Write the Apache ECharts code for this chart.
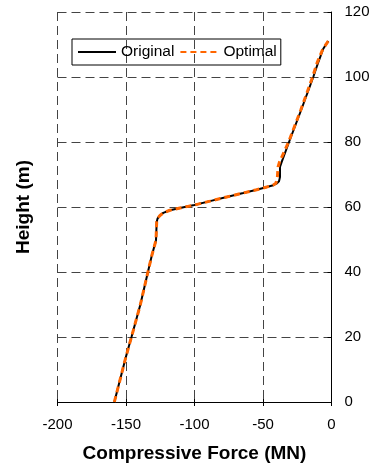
<!DOCTYPE html>
<html>
<head>
<meta charset="utf-8">
<script src="https://cdn.jsdelivr.net/npm/echarts@6/dist/echarts.min.js"></script>
<style>
html,body{margin:0;padding:0;background:#fff;}
#chart{width:374px;height:469px;}
</style>
</head>
<body>
<div id="chart"></div>
<script>
const heights = [0, 14, 20, 30, 40, 45, 49.8, 55.4, 56.4, 57.4, 58.2, 59.0, 59.7, 60.6, 61.8, 63.1, 64.3, 65.3, 66.0, 66.7, 67.3, 67.9, 69.2, 72.3, 73.8, 80, 90, 100, 104.6, 108.7, 111.1];
const originalForce = [-158.5, -150, -146, -139.5, -134, -131.2, -128.1, -127.6, -127.0, -125.2, -122.8, -117.9, -110.6, -100.1, -88.7, -76.5, -64.4, -54.6, -48.5, -42.5, -39.8, -38.3, -37.6, -37.6, -36.4, -31, -22, -13.3, -9.6, -6, -2.3];
const optimalForce = [-158.5, -150, -146, -139.5, -134, -131.2, -128.1, -127.6, -127.0, -125.2, -122.8, -117.9, -110.6, -100.1, -88.7, -76.5, -64.4, -54.6, -48.5, -42.8, -40.6, -39.8, -39.5, -39, -38, -31.3, -22.3, -13.8, -10.3, -6.2, -2.3];
const xTicks = [-200, -150, -100, -50, 0];
const yTicks = [0, 20, 40, 60, 80, 100, 120];

const pairs = (xs, ys) => xs.map((x, i) => [x, ys[i]]);
const font = 'Liberation Sans, Arial, sans-serif';
const chart = echarts.init(document.getElementById('chart'));
chart.setOption({
  animation: false,
  backgroundColor: '#fff',
  grid: {left: 57.5, top: 12, width: 274, height: 390},
  legend: {
    left: 72, top: 39,
    padding: [5, 4, 5, 5],
    itemGap: 5,
    itemWidth: 38, itemHeight: 14,
    borderColor: '#000', borderWidth: 1,
    itemStyle: {opacity: 0, borderWidth: 0},
    textStyle: {fontFamily: font, fontSize: 15.5, color: '#000'},
    data: ['Original', 'Optimal']
  },
  xAxis: [{
    type: 'value', min: xTicks[0], max: xTicks[xTicks.length - 1], interval: 50,
    position: 'bottom',
    name: 'Compressive Force (MN)', nameLocation: 'middle', nameGap: 42,
    nameTextStyle: {fontFamily: font, fontSize: 19, fontWeight: 'bold', color: '#000'},
    axisLine: {show: true, onZero: false, lineStyle: {color: '#000', width: 1}},
    axisTick: {show: true, length: 4, lineStyle: {color: '#000'}},
    axisLabel: {fontFamily: font, fontSize: 15, color: '#000', margin: 15},
    splitLine: {show: true, lineStyle: {color: '#444', type: [9, 5], width: 1}}
  }, {
    type: 'value', min: xTicks[0], max: xTicks[xTicks.length - 1], interval: 50,
    position: 'bottom',
    axisLine: {show: false},
    axisTick: {show: true, inside: true, length: 3, lineStyle: {color: '#000'}},
    axisLabel: {show: false},
    splitLine: {show: false}
  }],
  yAxis: [{
    type: 'value', min: yTicks[0], max: yTicks[yTicks.length - 1], interval: 20,
    position: 'right',
    axisLine: {show: true, onZero: false, lineStyle: {color: '#000', width: 1}},
    axisTick: {show: true, inside: true, length: 4, lineStyle: {color: '#000'}},
    axisLabel: {fontFamily: font, fontSize: 15, color: '#000', margin: 13},
    splitLine: {show: true, lineStyle: {color: '#444', type: [9, 5], width: 1}}
  }, {
    type: 'value', min: yTicks[0], max: yTicks[yTicks.length - 1], interval: 20,
    position: 'left',
    name: 'Height (m)', nameLocation: 'middle', nameGap: 24,
    nameTextStyle: {fontFamily: font, fontSize: 19, fontWeight: 'bold', color: '#000'},
    axisLine: {show: false}, axisTick: {show: false}, axisLabel: {show: false},
    splitLine: {show: false}
  }],
  series: [{
    name: 'Original', type: 'line', xAxisIndex: 0, yAxisIndex: 0,
    data: pairs(originalForce, heights),
    symbol: 'none', smooth: false,
    lineStyle: {color: '#000', width: 2},
    itemStyle: {color: '#000'}
  }, {
    name: 'Optimal', type: 'line', xAxisIndex: 0, yAxisIndex: 0,
    data: pairs(optimalForce, heights),
    symbol: 'none', smooth: false,
    lineStyle: {color: '#FF6600', width: 3, type: [6, 4]},
    itemStyle: {color: '#FF6600'}
  }]
});
</script>
</body>
</html>
